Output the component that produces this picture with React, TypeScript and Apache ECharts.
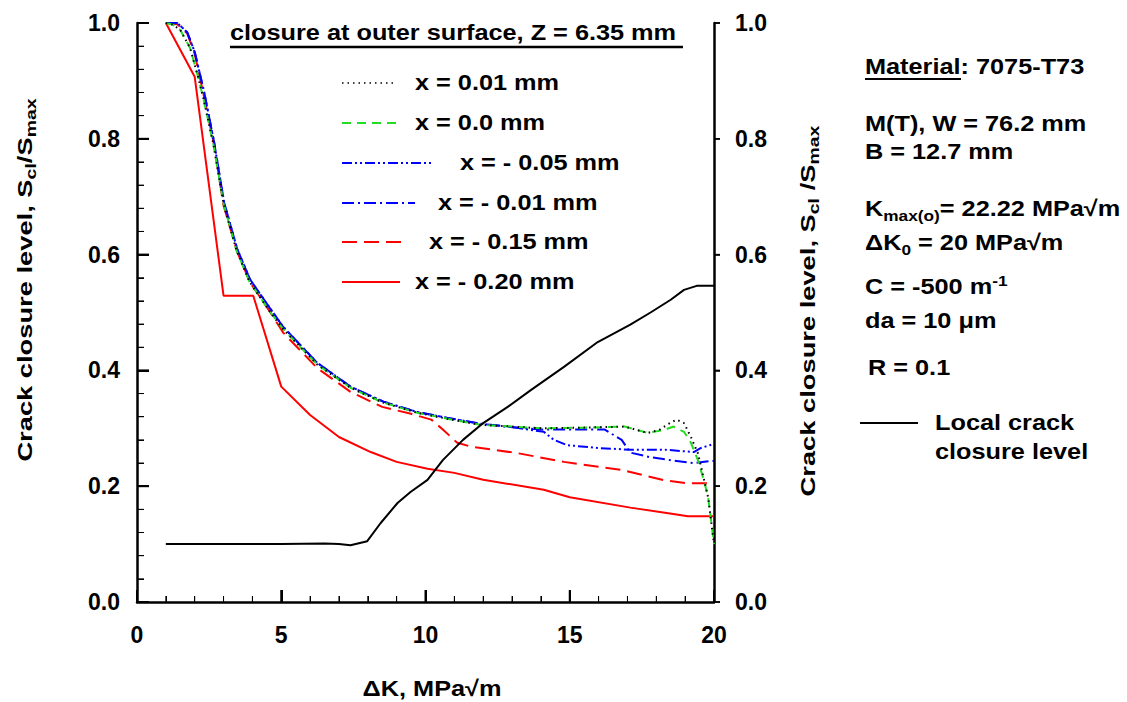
import { useEffect, useRef } from "react";
import * as echarts from "echarts";

const FONT = '"Liberation Sans", Arial, Helvetica, sans-serif';

// ---- Data (ΔK in MPa√m, closure level Scl/Smax) ----
// x = 0.01 mm (black dotted)
const p001X = [1, 1.25, 1.5, 1.84, 2.1, 2.3, 2.65, 3.0, 3.45, 3.9, 4.6, 5.07, 6.25, 7.4, 8.5, 9.7, 10.8, 11.9, 13.0, 14.0, 15.4, 16.9, 17.7, 18.1, 18.4, 18.7, 18.96, 19.2, 19.44, 19.55, 19.8, 20];
const p001Y = [1.0, 0.997, 0.988, 0.957, 0.91, 0.87, 0.79, 0.688, 0.607, 0.553, 0.502, 0.471, 0.41, 0.37, 0.345, 0.327, 0.316, 0.306, 0.303, 0.3, 0.301, 0.303, 0.292, 0.297, 0.307, 0.315, 0.309, 0.285, 0.257, 0.234, 0.18, 0.1];
// x = 0.0 mm (green dashed)
const p00X = [1, 1.25, 1.5, 1.84, 2.1, 2.3, 2.65, 3.0, 3.45, 3.9, 4.6, 5.07, 6.25, 7.4, 8.5, 9.7, 10.8, 11.9, 13.0, 14.0, 15.4, 16.9, 17.7, 18.26, 18.6, 18.96, 19.2, 19.44, 19.65, 19.8, 20];
const p00Y = [1.0, 0.997, 0.988, 0.957, 0.91, 0.87, 0.79, 0.688, 0.607, 0.553, 0.502, 0.471, 0.41, 0.37, 0.345, 0.327, 0.316, 0.306, 0.303, 0.3, 0.301, 0.303, 0.292, 0.297, 0.303, 0.294, 0.275, 0.245, 0.21, 0.18, 0.1];
// x = -0.05 mm (blue dash-dot-dot)
const m005X = [1, 1.4, 1.74, 2.0, 2.33, 2.67, 3.02, 3.47, 3.92, 4.6, 5.07, 6.25, 7.4, 8.54, 9.72, 10.76, 11.9, 13.0, 13.65, 14.1, 14.45, 14.9, 15.97, 17.1, 18.3, 19.3, 19.55, 20];
const m005Y = [1.0, 1.0, 0.984, 0.95, 0.88, 0.795, 0.69, 0.61, 0.557, 0.508, 0.475, 0.413, 0.372, 0.346, 0.328, 0.318, 0.308, 0.302, 0.297, 0.294, 0.28, 0.271, 0.266, 0.263, 0.263, 0.259, 0.266, 0.273];
// x = -0.01 mm (blue dash-dot)
const m001X = [1, 1.4, 1.74, 2.0, 2.33, 2.67, 3.02, 3.47, 3.92, 4.6, 5.07, 6.25, 7.4, 8.54, 9.72, 10.76, 11.9, 13.0, 14.0, 15.0, 16.2, 16.8, 17.1, 17.8, 18.5, 19.3, 20];
const m001Y = [1.0, 1.0, 0.984, 0.95, 0.88, 0.795, 0.69, 0.61, 0.557, 0.508, 0.475, 0.413, 0.372, 0.346, 0.328, 0.318, 0.308, 0.302, 0.298, 0.298, 0.298, 0.28, 0.258, 0.25, 0.245, 0.24, 0.244];
// x = -0.15 mm (red dashed)
const m015X = [1, 1.4, 1.74, 2.0, 2.3, 2.67, 3.0, 3.47, 3.92, 4.6, 5.07, 6.25, 7.4, 8.5, 9.5, 10.2, 10.6, 11.1, 11.6, 13.2, 14.8, 16.8, 18.3, 19.1, 20];
const m015Y = [1.0, 0.998, 0.982, 0.947, 0.878, 0.79, 0.685, 0.605, 0.552, 0.502, 0.465, 0.404, 0.363, 0.337, 0.325, 0.315, 0.298, 0.275, 0.268, 0.257, 0.242, 0.228, 0.21, 0.205, 0.205];
// x = -0.20 mm (red solid)
const m020X = [1, 2.0, 3.0, 4.03, 5.0, 6.0, 7.0, 8.1, 9.0, 10.07, 11.0, 12.0, 14.1, 15.0, 17.1, 18.3, 19.1, 20];
const m020Y = [1.0, 0.907, 0.529, 0.529, 0.372, 0.323, 0.285, 0.259, 0.242, 0.23, 0.223, 0.211, 0.194, 0.181, 0.163, 0.154, 0.148, 0.148];
// Local crack closure level (black solid, right axis)
const localX = [1, 3, 5, 6.5, 7.0, 7.4, 7.98, 8.44, 9.03, 9.48, 10.07, 10.6, 11.3, 12.0, 12.85, 13.65, 14.8, 15.97, 17.1, 17.8, 18.5, 18.96, 19.4, 20];
const localY = [0.1, 0.1, 0.1, 0.101, 0.1, 0.098, 0.105, 0.136, 0.171, 0.19, 0.211, 0.245, 0.28, 0.309, 0.337, 0.366, 0.406, 0.449, 0.479, 0.5, 0.522, 0.539, 0.546, 0.546];

// Tick values of the axes
const xMajorTicks = [0, 5, 10, 15, 20];
const xMinorTicks = [1, 2, 3, 4, 6, 7, 8, 9, 11, 12, 13, 14, 16, 17, 18, 19];
const yMajorTicks = [0, 0.2, 0.4, 0.6, 0.8, 1.0];
const yMinorTicks = [0.04, 0.08, 0.12, 0.16, 0.24, 0.28, 0.32, 0.36, 0.44, 0.48, 0.52, 0.56, 0.64, 0.68, 0.72, 0.76, 0.84, 0.88, 0.92, 0.96];

const legendLabels = ["x = 0.01 mm", "x = 0.0 mm", "x = - 0.05 mm", "x = - 0.01 mm", "x = - 0.15 mm", "x = - 0.20 mm"];

const pairs = (xs: number[], ys: number[]) => xs.map((x, i) => [x, ys[i]]);

const S = 1.15;
const NAME_SCALE = 1.3;

const tok = (size: number, lh: number, va?: string) => ({
  fontSize: size,
  fontWeight: "bold",
  fontFamily: FONT,
  fill: "#000",
  lineHeight: lh,
  ...(va ? { verticalAlign: va } : {}),
});

function txt(text: string, x: number, y: number, align = "left") {
  return {
    type: "text",
    x,
    y,
    scaleX: S,
    style: {
      text,
      fill: "#000",
      fontSize: 22,
      fontWeight: "bold",
      fontFamily: FONT,
      textAlign: align,
      textVerticalAlign: "middle",
    },
  };
}

function richTxt(text: string, x: number, y: number) {
  return {
    type: "text",
    x,
    y,
    scaleX: S,
    style: {
      text,
      fill: "#000",
      textAlign: "left",
      textVerticalAlign: "middle",
      rich: { n: tok(22, 28), s: tok(15, 16, "bottom"), p: tok(15, 16, "top") },
    },
  };
}

function line(x1: number, y1: number, x2: number, y2: number, stroke: string, dash?: number[], w = 2) {
  return {
    type: "line",
    shape: { x1, y1, x2, y2 },
    style: { stroke, lineWidth: w, ...(dash ? { lineDash: dash } : {}) },
  };
}

const styles = {
  dotted: [1.5, 4],
  dashed: [9, 6],
  dashDotDot: [10, 3, 2, 3, 2, 3],
  dashDot: [12, 4, 2, 4],
  redDash: [15, 7],
};

const mk = (name: string, xs: number[], ys: number[], color: string, dash: any, w = 2, yAxisIndex = 0) => ({
  name,
  type: "line",
  yAxisIndex,
  data: pairs(xs, ys),
  symbol: "none",
  showSymbol: false,
  smooth: false,
  lineStyle: { color, width: w, type: dash, cap: "butt" },
  emphasis: { disabled: true },
});

// tick kinds: 0 x-major, 1 x-minor, 2 left-major, 3 left-minor, 4 right-major
const tickData = [
  ...xMajorTicks.map((v) => [v, 0]),
  ...xMinorTicks.map((v) => [v, 1]),
  ...yMajorTicks.map((v) => [v, 2]),
  ...yMinorTicks.map((v) => [v, 3]),
  ...yMajorTicks.map((v) => [v, 4]),
];

export default function App() {
  const ref = useRef<HTMLDivElement>(null);
  useEffect(() => {
    const chart = echarts.init(ref.current!, null, { renderer: "svg" });

    const axisLabel = { show: true, color: "#000", fontSize: 23, fontWeight: "bold", fontFamily: FONT };

    const legendRows = [
      { y: 83, end: 397, tx: 415, stroke: "#000", dash: styles.dotted, w: 1.5 },
      { y: 123, end: 400, tx: 415, stroke: "#22dd22", dash: styles.dashed, w: 2 },
      { y: 163, end: 432, tx: 460, stroke: "#0000ff", dash: styles.dashDotDot, w: 2 },
      { y: 203, end: 415, tx: 438, stroke: "#0000ff", dash: styles.dashDot, w: 2 },
      { y: 242, end: 404, tx: 429, stroke: "#ff0000", dash: styles.redDash, w: 2 },
      { y: 282, end: 400, tx: 415, stroke: "#ff0000", dash: undefined, w: 2 },
    ];

    const graphic: any[] = [
      txt("closure at outer surface, Z = 6.35 mm", 230, 33),
      line(230, 47, 683, 47, "#000", undefined, 2.5),
      ...legendRows.flatMap((r, i) => [
        line(342, r.y, r.end, r.y, r.stroke, r.dash, r.w),
        txt(legendLabels[i], r.tx, r.y),
      ]),
      txt("Material: 7075-T73", 865, 67),
      line(865, 79, 961, 79, "#000", undefined, 2),
      txt("M(T), W = 76.2 mm", 865, 124),
      txt("B = 12.7 mm", 865, 152),
      richTxt("{n|K}{s|max(o)}{n|= 22.22 MPa√m}", 865, 209),
      richTxt("{n|ΔK}{s|0}{n| = 20 MPa√m}", 865, 243),
      richTxt("{n|C = -500 m}{p|-1}{n| }", 865, 287),
      txt("da = 10 μm", 865, 321),
      txt("R = 0.1", 868, 368),
      line(860, 423, 918, 423, "#000", undefined, 2),
      txt("Local crack", 935, 423),
      txt("closure level", 935, 452),
      txt("ΔK, MPa√m", 432, 689, "center"),
      {
        type: "text",
        x: 25,
        y: 280,
        rotation: Math.PI / 2,
        scaleX: NAME_SCALE,
        style: {
          text: "{n|Crack closure level, S}{s|cl}{n|/S}{s|max}",
          fill: "#000",
          textAlign: "center",
          textVerticalAlign: "middle",
          rich: { n: tok(21, 26), s: tok(15, 14, "bottom") },
        },
      },
      {
        type: "text",
        x: 808,
        y: 311,
        rotation: Math.PI / 2,
        scaleX: NAME_SCALE,
        style: {
          text: "{n|Crack closure level, S}{s|cl}{n| /S}{s|max}",
          fill: "#000",
          textAlign: "center",
          textVerticalAlign: "middle",
          rich: { n: tok(21, 26), s: tok(15, 14, "bottom") },
        },
      },
    ];

    const tickSeries = {
      name: "ticks",
      type: "custom",
      silent: true,
      clip: false,
      z: 10,
      data: tickData,
      renderItem: (_params: any, api: any) => {
        const v = api.value(0);
        const k = api.value(1);
        let p: number[];
        let x2: number;
        let y2: number;
        let w = 1;
        if (k === 0 || k === 1) {
          p = api.coord([v, 0]);
          x2 = p[0];
          y2 = p[1] - (k === 0 ? 12 : 6);
          w = k === 0 ? 2 : 1;
        } else if (k === 2 || k === 3) {
          p = api.coord([0, v]);
          x2 = p[0] + (k === 2 ? 12 : 7);
          y2 = p[1];
          w = k === 2 ? 2 : 1;
        } else {
          p = api.coord([20, v]);
          x2 = p[0] + 6;
          y2 = p[1];
          w = 1.5;
        }
        return {
          type: "line",
          shape: { x1: p[0], y1: p[1], x2, y2 },
          style: { stroke: "#000", lineWidth: w },
        };
      },
    };

    const option: any = {
      animation: false,
      grid: { left: 137, right: 413, top: 23, bottom: 100 },
      xAxis: {
        type: "value",
        min: 0,
        max: 20,
        interval: 5,
        axisLine: { show: true, onZero: false, lineStyle: { color: "#000", width: 2.5 } },
        axisTick: { show: true, inside: true, length: 12, lineStyle: { color: "#000", width: 2 } },
        minorTick: { show: true, splitNumber: 5, length: 6, lineStyle: { color: "#000", width: 1 } },
        splitLine: { show: false },
        axisLabel: { ...axisLabel, margin: 21 },
      },
      yAxis: [
        {
          type: "value",
          position: "left",
          min: 0,
          max: 1,
          interval: 0.2,
          axisLine: { show: true, onZero: false, lineStyle: { color: "#000", width: 2.5 } },
          axisTick: { show: true, inside: true, length: 12, lineStyle: { color: "#000", width: 2 } },
          minorTick: { show: true, splitNumber: 5, length: 7, lineStyle: { color: "#000", width: 1 } },
          splitLine: { show: false },
          axisLabel: { ...axisLabel, margin: 17, formatter: (v: number) => v.toFixed(1) },
        },
        {
          type: "value",
          position: "right",
          min: 0,
          max: 1,
          interval: 0.2,
          axisLine: { show: true, onZero: false, lineStyle: { color: "#000", width: 2.5 } },
          axisTick: { show: true, inside: false, length: 6, lineStyle: { color: "#000", width: 1.5 } },
          minorTick: { show: false },
          splitLine: { show: false },
          axisLabel: { ...axisLabel, margin: 21, formatter: (v: number) => v.toFixed(1) },
        },
      ],
      series: [
        mk("x = - 0.20 mm", m020X, m020Y, "#ff0000", "solid"),
        mk("x = - 0.15 mm", m015X, m015Y, "#ff0000", styles.redDash),
        mk("x = - 0.05 mm", m005X, m005Y, "#0000ff", styles.dashDotDot),
        mk("x = - 0.01 mm", m001X, m001Y, "#0000ff", styles.dashDot),
        mk("x = 0.0 mm", p00X, p00Y, "#22dd22", styles.dashed),
        mk("x = 0.01 mm", p001X, p001Y, "#000000", styles.dotted, 2),
        mk("Local crack closure level", localX, localY, "#000000", "solid", 2, 1),
        tickSeries,
      ],
      graphic,
    };

    chart.setOption(option);
    return () => chart.dispose();
  }, []);

  return (
    <div
      ref={ref}
      style={{ position: "absolute", left: 0, top: 0, width: 1127, height: 702, background: "#fff" }}
    />
  );
}
